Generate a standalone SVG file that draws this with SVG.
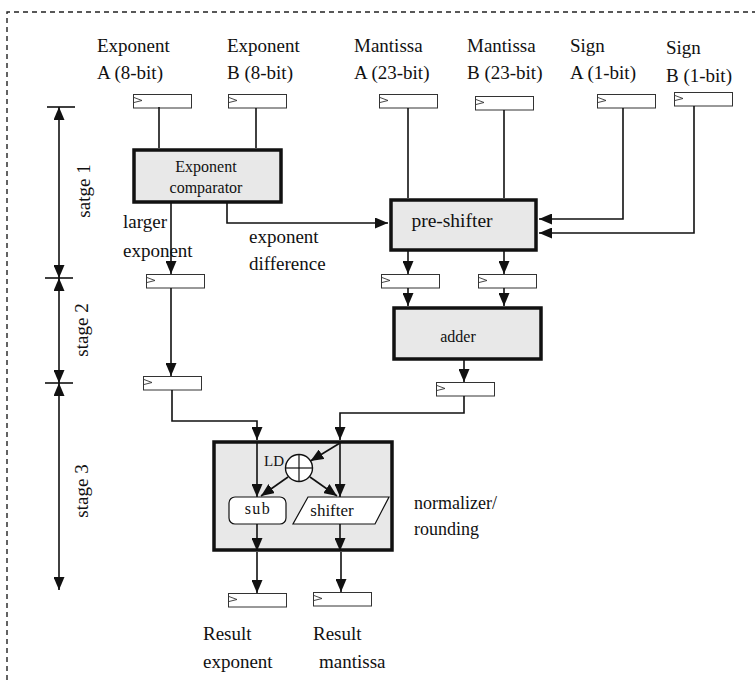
<svg xmlns="http://www.w3.org/2000/svg" xmlns:xlink="http://www.w3.org/1999/xlink" width="755" height="680" viewBox="0 0 755 680">
<style>
text{font-family:"Liberation Serif","Times New Roman",serif;fill:#111;}
.lbl{font-size:19px;}
.box{fill:#e8e8e8;stroke:#111;stroke-width:3.5;}
.ln{fill:none;stroke:#111;stroke-width:1.6;}
.arr{fill:none;stroke:#111;stroke-width:1.6;marker-end:url(#ah);}
.reg rect{fill:#fff;stroke:#333;stroke-width:1;}
.reg polyline{fill:none;stroke:#333;stroke-width:0.9;}
</style>
<defs>
<marker id="ah" markerUnits="userSpaceOnUse" markerWidth="13" markerHeight="11" refX="13" refY="5.5" orient="auto-start-reverse">
<path d="M0,0 L13,5.5 L0,11 z" fill="#111"/>
</marker>
<g id="reg" class="reg">
<rect x="0.5" y="0.5" width="58" height="13.5"/>
<polyline points="1,3.5 9,6.5 1,8.5"/>
</g>
</defs>

<!-- dashed frame -->
<path d="M7,680 V12 H755" fill="none" stroke="#222" stroke-width="1.4" stroke-dasharray="5 4"/>

<!-- stage scale -->
<g id="stages">
<line x1="47" y1="107" x2="75" y2="107" stroke="#111" stroke-width="1.6"/>
<line x1="45" y1="278" x2="73" y2="278" stroke="#111" stroke-width="1.6"/>
<line x1="45" y1="383" x2="73" y2="383" stroke="#111" stroke-width="1.6"/>
<path d="M59,107 V278" class="arr" style="marker-start:url(#ah)"/>
<path d="M59,278 V383" class="arr" style="marker-start:url(#ah)"/>
<path d="M59,383 V590" class="arr" style="marker-start:url(#ah)"/>
<text class="lbl" transform="translate(90,191) rotate(-90)" text-anchor="middle">satge 1</text>
<text class="lbl" transform="translate(88,330) rotate(-90)" text-anchor="middle">stage 2</text>
<text class="lbl" transform="translate(88,491) rotate(-90)" text-anchor="middle">stage 3</text>
</g>

<!-- input labels -->
<g id="labels">
<text class="lbl" x="97" y="52">Exponent</text>
<text class="lbl" x="97" y="79">A (8-bit)</text>
<text class="lbl" x="227" y="52">Exponent</text>
<text class="lbl" x="227" y="79">B (8-bit)</text>
<text class="lbl" x="354" y="52">Mantissa</text>
<text class="lbl" x="354" y="79">A (23-bit)</text>
<text class="lbl" x="467" y="52">Mantissa</text>
<text class="lbl" x="467" y="79">B (23-bit)</text>
<text class="lbl" x="570" y="52">Sign</text>
<text class="lbl" x="570" y="79">A (1-bit)</text>
<text class="lbl" x="666" y="54">Sign</text>
<text class="lbl" x="666" y="82">B (1-bit)</text>
<text class="lbl" x="123" y="228">larger</text>
<text class="lbl" x="123" y="257">exponent</text>
<text class="lbl" x="249" y="243">exponent</text>
<text class="lbl" x="249" y="270">difference</text>
<text style="font-size:18px" x="414" y="509">normalizer/</text>
<text style="font-size:18px" x="414" y="535">rounding</text>
<text class="lbl" x="203" y="640">Result</text>
<text class="lbl" x="203" y="668">exponent</text>
<text class="lbl" x="313" y="640">Result</text>
<text class="lbl" x="319" y="668">mantissa</text>
</g>

<!-- registers -->
<g id="registers">
<use xlink:href="#reg" x="133" y="94"/>
<use xlink:href="#reg" x="228" y="94"/>
<use xlink:href="#reg" x="379" y="94"/>
<use xlink:href="#reg" x="475" y="96"/>
<use xlink:href="#reg" x="597" y="94"/>
<use xlink:href="#reg" x="674" y="92"/>
<use xlink:href="#reg" x="146" y="274"/>
<use xlink:href="#reg" x="381" y="274"/>
<use xlink:href="#reg" x="478" y="274"/>
<use xlink:href="#reg" x="143" y="376"/>
<use xlink:href="#reg" x="436" y="382"/>
<use xlink:href="#reg" x="228" y="593"/>
<use xlink:href="#reg" x="313" y="592"/>
</g>

<!-- nodes -->
<g id="comparator">
<rect class="box" x="134" y="150" width="147" height="52"/>
<text style="font-size:16px" x="206" y="172" text-anchor="middle">Exponent</text>
<text style="font-size:16px" x="206" y="193" text-anchor="middle">comparator</text>
</g>
<g id="preshifter">
<rect class="box" x="391" y="200" width="145" height="50"/>
<text style="font-size:19.5px" x="452" y="227" text-anchor="middle">pre-shifter</text>
</g>
<g id="adder">
<rect class="box" x="394" y="308" width="147" height="51"/>
<text style="font-size:16px" x="458" y="342" text-anchor="middle">adder</text>
</g>
<g id="normalizer">
<rect class="box" x="214" y="442" width="178" height="108"/>
</g>
<g id="ld">
<circle cx="299" cy="468" r="13.5" fill="#fff" stroke="#111" stroke-width="1.4"/>
<line x1="299" y1="454.5" x2="299" y2="481.5" stroke="#111" stroke-width="1.2"/>
<line x1="285.5" y1="468" x2="312.5" y2="468" stroke="#111" stroke-width="1.2"/>
<text style="font-size:15px" x="264" y="466">LD</text>
</g>
<g id="sub">
<rect x="229" y="497" width="57" height="27" rx="6" fill="#fff" stroke="#111" stroke-width="1.2"/>
<text style="font-size:16px;letter-spacing:1.5px" x="258" y="514" text-anchor="middle">sub</text>
</g>
<g id="shifter">
<polygon points="308,497 389,497 375,524 293,524" fill="#fff" stroke="#111" stroke-width="1.2"/>
<text style="font-size:17px" x="332" y="516" text-anchor="middle">shifter</text>
</g>

<!-- connectors -->
<g id="connectors">
<path class="ln" d="M159,107 V148"/>
<path class="ln" d="M256,108 V148"/>
<path class="ln" d="M408,108 V198"/>
<path class="ln" d="M504,110 V198"/>
<path class="arr" d="M623,108 V219 H539"/>
<path class="arr" d="M694,106 V233 H539"/>
<path class="arr" d="M227,203 V223 H388"/>
<path class="arr" d="M171,203 V274"/>
<path class="arr" d="M171,288 V376"/>
<path class="arr" d="M172,390 V421 H257 V440"/>
<path class="arr" d="M408,251 V274"/>
<path class="arr" d="M504,251 V274"/>
<path class="arr" d="M408,288 V306"/>
<path class="arr" d="M504,288 V306"/>
<path class="arr" d="M464,360 V382"/>
<path class="arr" d="M464,396 V413 H340 V440"/>
<path class="arr" d="M257,443 V497"/>
<path class="arr" d="M340,443 V497"/>
<path class="arr" d="M340,443 L310.5,461"/>
<path class="arr" d="M288,477 L261,496"/>
<path class="arr" d="M310,477 L337,496"/>
<path class="arr" d="M257,524 V551"/>
<path class="arr" d="M340,524 V551"/>
<path class="arr" d="M257,552 V593"/>
<path class="arr" d="M341,552 V592"/>
</g>
</svg>
